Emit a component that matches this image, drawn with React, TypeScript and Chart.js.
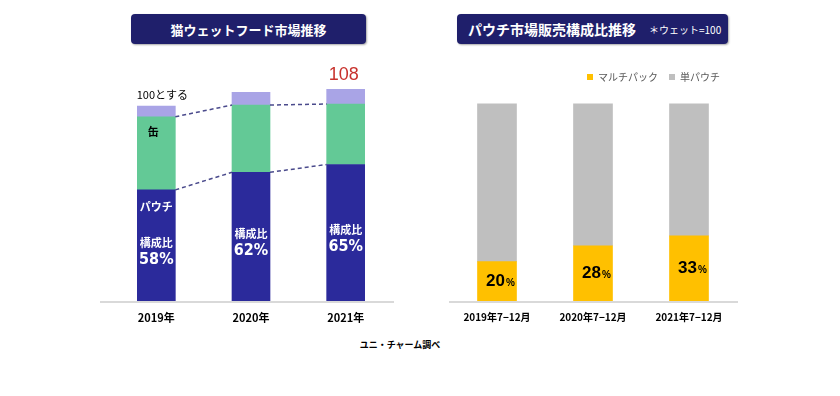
import React, { useEffect, useRef } from "react";
import { Chart, registerables } from "chart.js";
Chart.register(...registerables);

// ---- Left chart data: 猫ウェットフード市場推移 ----
const marketYears = ["2019年", "2020年", "2021年"];
const pouchValues = [57, 66, 70];
const canValues = [37.5, 34.5, 31];
const otherValues = [5.5, 6.5, 7.5];
const pouchShareLabels = ["58%", "62%", "65%"];
const totalLabel = "108";
const baseLabel = "100とする";
const canLabel = "缶";
const pouchLabel = "パウチ";
const shareCaption = "構成比";

// ---- Right chart data: パウチ市場販売構成比推移 ----
const periodLabels = ["2019年7−12月", "2020年7−12月", "2021年7−12月"];
const multiPackValues = [20, 28, 33];
const singlePouchValues = [80, 72, 67];
const multiPackLabels = ["20", "28", "33"];
const seriesNames = ["マルチパック", "単パウチ"];

const JP = "'Noto Sans CJK JP', 'Noto Sans', sans-serif";
const NUM = "'Liberation Sans Narrow', 'DejaVu Sans Condensed', 'Liberation Sans', sans-serif";

const leftPlugin = {
  id: "leftAnno",
  beforeDatasetsDraw(chart: any) {
    const { ctx, chartArea } = chart;
    ctx.save();
    ctx.strokeStyle = "#d9d9d9";
    ctx.lineWidth = 2;
    ctx.beginPath();
    ctx.moveTo(0, chartArea.bottom + 1);
    ctx.lineTo(chart.width - 1, chartArea.bottom + 1);
    ctx.stroke();
    ctx.restore();
  },
  afterDatasetsDraw(chart: any) {
    const { ctx } = chart;
    const ys = chart.scales.y;
    const pouchMeta = chart.getDatasetMeta(0);
    const canMeta = chart.getDatasetMeta(1);
    const otherMeta = chart.getDatasetMeta(2);
    ctx.save();
    ctx.setLineDash([4, 3]);
    ctx.strokeStyle = "#4a4a8c";
    ctx.lineWidth = 1.5;
    [pouchMeta, canMeta].forEach((meta: any) => {
      for (let i = 0; i < meta.data.length - 1; i++) {
        const a = meta.data[i];
        const b = meta.data[i + 1];
        ctx.beginPath();
        ctx.moveTo(a.x + a.width / 2, a.y);
        ctx.lineTo(b.x - b.width / 2, b.y);
        ctx.stroke();
      }
    });
    ctx.setLineDash([]);
    ctx.textAlign = "center";
    ctx.textBaseline = "middle";

    // 缶
    ctx.fillStyle = "#000";
    ctx.font = `bold 11px ${JP}`;
    ctx.fillText(canLabel, canMeta.data[0].x - 3, ys.getPixelForValue(pouchValues[0] + canValues[0] * 0.8));

    // パウチ
    ctx.fillStyle = "#fff";
    ctx.fillText(pouchLabel, pouchMeta.data[0].x, ys.getPixelForValue(pouchValues[0] * 0.85));

    // 構成比 xx%
    pouchValues.forEach((v, i) => {
      const el = pouchMeta.data[i];
      const yc = ys.getPixelForValue(v * 0.52);
      ctx.font = `bold 11px ${JP}`;
      ctx.fillText(shareCaption, el.x, yc);
      ctx.font = `bold 16px ${NUM}`;
      ctx.fillText(pouchShareLabels[i], el.x, yc + 17);
    });

    // 100とする
    ctx.fillStyle = "#000";
    ctx.font = `11px ${JP}`;
    const o0 = otherMeta.data[0];
    ctx.fillText(baseLabel, o0.x + 6, o0.y - 11);

    // 108
    const o2 = otherMeta.data[2];
    ctx.fillStyle = "#c8322d";
    ctx.font = `18px 'Liberation Sans', sans-serif`;
    ctx.fillText(totalLabel, o2.x - 2, o2.y - 14);
    ctx.restore();
  },
};

const rightPlugin = {
  id: "rightAnno",
  afterLayout(chart: any) {
    if (chart.legend) chart.legend.right -= 6;
  },
  beforeDatasetsDraw(chart: any) {
    const { ctx, chartArea } = chart;
    ctx.save();
    ctx.strokeStyle = "#d9d9d9";
    ctx.lineWidth = 2;
    ctx.beginPath();
    ctx.moveTo(chartArea.left, chartArea.bottom + 1);
    ctx.lineTo(chart.width - 2, chartArea.bottom + 1);
    ctx.stroke();
    ctx.restore();
  },
  afterDatasetsDraw(chart: any) {
    const { ctx } = chart;
    const ys = chart.scales.y;
    const meta = chart.getDatasetMeta(0);
    ctx.save();
    ctx.fillStyle = "#000";
    ctx.textBaseline = "alphabetic";
    ctx.textAlign = "left";
    multiPackValues.forEach((v, i) => {
      const el = meta.data[i];
      const yc = ys.getPixelForValue(v * 0.53) + 6;
      ctx.font = `bold 17px 'Liberation Sans', sans-serif`;
      const w1 = ctx.measureText(multiPackLabels[i]).width;
      ctx.font = `bold 10px 'Liberation Sans', sans-serif`;
      const w2 = ctx.measureText("%").width;
      const x0 = el.x - (w1 + w2) / 2 + 3;
      ctx.font = `bold 17px 'Liberation Sans', sans-serif`;
      ctx.fillText(multiPackLabels[i], x0, yc);
      ctx.font = `bold 10px 'Liberation Sans', sans-serif`;
      ctx.fillText("%", x0 + w1 + 1, yc);
    });
    ctx.restore();
  },
};

export default function App() {
  const leftRef = useRef<HTMLCanvasElement>(null);
  const rightRef = useRef<HTMLCanvasElement>(null);

  useEffect(() => {
    const left = new Chart(leftRef.current!, {
      type: "bar",
      data: {
        labels: marketYears,
        datasets: [
          { label: "パウチ", data: pouchValues, backgroundColor: "#2b2a9b", barThickness: 38 },
          { label: "缶", data: canValues, backgroundColor: "#63c996", barThickness: 38 },
          { label: "その他", data: otherValues, backgroundColor: "#a9a4e6", barThickness: 38 },
        ],
      },
      options: {
        responsive: false,
        animation: false,
        layout: { padding: { left: 9, right: 2, top: 7, bottom: 4 } },
        plugins: { legend: { display: false }, tooltip: { enabled: false } },
        scales: {
          x: {
            stacked: true,
            grid: { display: false, drawTicks: false },
            border: { display: false },
            ticks: { color: "#000", font: { family: JP, size: 11, weight: "bold" }, padding: 10 },
            afterFit: (s: any) => { s.height = 30; },
          },
          y: { stacked: true, display: false, min: 0, max: 120 },
        },
      },
      plugins: [leftPlugin],
    } as any);

    const right = new Chart(rightRef.current!, {
      type: "bar",
      data: {
        labels: periodLabels,
        datasets: [
          { label: seriesNames[0], data: multiPackValues, backgroundColor: "#ffc000", barThickness: 39 },
          { label: seriesNames[1], data: singlePouchValues, backgroundColor: "#bfbfbf", barThickness: 39 },
        ],
      },
      options: {
        responsive: false,
        animation: false,
        layout: { padding: { left: 4, right: 3, top: 1, bottom: 4 } },
        plugins: {
          legend: {
            display: true,
            position: "top",
            align: "end",
            labels: {
              boxWidth: 6,
              boxHeight: 6,
              padding: 11,
              color: "#595959",
              font: { family: JP, size: 10 },
            },
          },
          tooltip: { enabled: false },
        },
        scales: {
          x: {
            stacked: true,
            grid: { display: false, drawTicks: false },
            border: { display: false },
            ticks: { color: "#000", font: { family: JP, size: 10, weight: "bold" }, padding: 10 },
            afterFit: (s: any) => { s.height = 30; },
          },
          y: { stacked: true, display: false, min: 0, max: 106 },
        },
      },
      plugins: [rightPlugin],
    } as any);

    return () => {
      left.destroy();
      right.destroy();
    };
  }, []);

  const titleBox: React.CSSProperties = {
    position: "absolute",
    top: 14,
    height: 30,
    background: "#1f1f6b",
    borderRadius: 4,
    boxShadow: "1px 1px 2px rgba(0,0,0,0.35)",
    color: "#fff",
    fontFamily: JP,
    fontWeight: "bold",
    display: "flex",
    alignItems: "center",
    boxSizing: "border-box",
  };

  return (
    <div style={{ position: "fixed", left: 0, top: 0, width: 840, height: 396, background: "#fff", overflow: "hidden" }}>
      <div style={{ ...titleBox, left: 131, width: 235, justifyContent: "center", fontSize: 13 }}>
        猫ウェットフード市場推移
      </div>
      <div style={{ ...titleBox, left: 457, width: 271, paddingLeft: 11, fontSize: 14 }}>
        <span>パウチ市場販売構成比推移</span>
        <span style={{ fontSize: 10, fontWeight: "normal", marginLeft: 13 }}>＊ウェット=100</span>
      </div>
      <canvas ref={leftRef} width={295} height={275} style={{ position: "absolute", left: 100, top: 60, width: 295, height: 275 }} />
      <canvas ref={rightRef} width={295} height={275} style={{ position: "absolute", left: 445, top: 60, width: 295, height: 275 }} />
      <div style={{ position: "absolute", left: 300, width: 200, top: 338, textAlign: "center", fontFamily: JP, fontSize: 9, fontWeight: "bold", color: "#000" }}>
        ユニ・チャーム調べ
      </div>
    </div>
  );
}
